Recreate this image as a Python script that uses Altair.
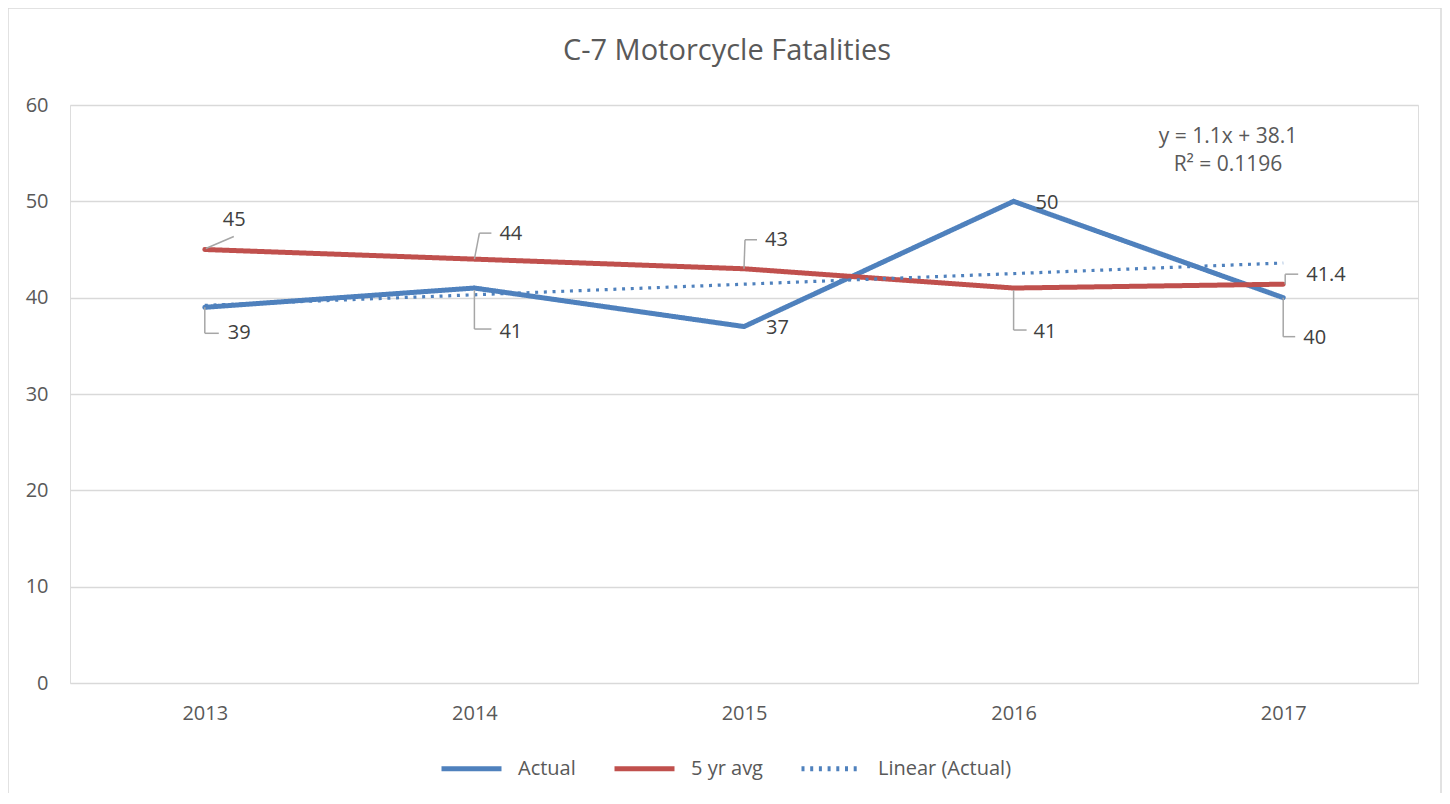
import altair as alt
import pandas as pd

years = ["2013", "2014", "2015", "2016", "2017"]
idx = [1, 2, 3, 4, 5]
actual = [39, 41, 37, 50, 40]
avg5 = [45, 44, 43, 41, 41.4]
series_names = ["Actual", "5 yr avg", "Linear (Actual)"]
series_colors = ["#4F81BD", "#C0504D", "#4F81BD"]
y_ticks = [0, 10, 20, 30, 40, 50, 60]
title_text = "C-7 Motorcycle Fatalities"
eq_lines = ["y = 1.1x + 38.1", "R² = 0.1196"]

FONT = "Open Sans"
TXT = "#404040"
AX = "#595959"

rows = []
for y, i, a in zip(years, idx, actual):
    rows.append({"year": y, "idx": i, "series": "Actual", "value": a})
for y, i, a in zip(years, idx, avg5):
    rows.append({"year": y, "idx": i, "series": "5 yr avg", "value": a})
df = pd.DataFrame(rows)

base = alt.Chart(df)

x_enc = alt.X("year:N", scale=alt.Scale(type="point", domain=years, padding=0.5),
              axis=alt.Axis(title=None, domain=False, ticks=False, labelPadding=20,
                            labelFontSize=20, labelColor=AX, labelFont=FONT, grid=False,
                            labelAngle=0))
y_enc = alt.Y("value:Q", scale=alt.Scale(domain=[0, 60], nice=False),
              axis=alt.Axis(title=None, domain=False, ticks=False, values=y_ticks,
                            labelPadding=22, labelFontSize=20, labelColor=AX,
                            labelFont=FONT, grid=True, gridColor="#D9D9D9", gridWidth=1.3))

color_enc = alt.Color("series:N", scale=alt.Scale(domain=series_names, range=series_colors),
                      sort=series_names,
                      legend=alt.Legend(title=None, orient="none", direction="horizontal",
                                        legendX=369, legendY=631, symbolType="stroke",
                                        symbolSize=3600, symbolStrokeWidth=5,
                                        labelFontSize=20, labelFont=FONT, labelColor=AX,
                                        labelOffset=14, columnPadding=28))
dash_enc = alt.StrokeDash("series:N", scale=alt.Scale(domain=series_names,
                                                      range=[[1, 0], [1, 0], [3, 5.7]]),
                          sort=series_names, legend=None)

lines = base.transform_filter(alt.datum.series != "Linear (Actual)").mark_line(
    strokeWidth=5, strokeCap="round", strokeJoin="round"
).encode(x=x_enc, y=y_enc, color=color_enc, strokeDash=dash_enc)

trend = base.transform_filter(alt.datum.series == "Actual").transform_regression(
    "idx", "value"
).transform_calculate(
    year="toString(2012 + datum.idx)", series="'Linear (Actual)'"
).mark_line(strokeWidth=3.2, strokeCap="butt").encode(
    x=alt.X("year:N"), y=alt.Y("value:Q"), color=color_enc, strokeDash=dash_enc
)

layers = [lines, trend]

# label placements: (series, year, dx, dy, leader segments)
placements = [
    ("Actual", "2013", 23, 26, [(0, 0, 0, 26), (0, 26, 14, 26)]),
    ("Actual", "2014", 25, 44, [(0, 2, 0, 41), (0, 41, 17, 41)]),
    ("Actual", "2015", 22, 1, []),
    ("Actual", "2016", 22, 2, []),
    ("Actual", "2017", 20, 40, [(0, 0, 0, 39), (0, 39, 12, 39)]),
    ("5 yr avg", "2013", 18, -30, [(1, -1, 29, -13)]),
    ("5 yr avg", "2014", 25, -25, [(0, 0, 5, -26), (5, -26, 17, -26)]),
    ("5 yr avg", "2015", 21, -29, [(0, 0, 1, -29), (1, -29, 13, -29)]),
    ("5 yr avg", "2016", 20, 44, [(0, 2, 0, 42), (0, 42, 13, 42)]),
    ("5 yr avg", "2017", 23, -9, [(2, 0, 2, -10), (2, -10, 15, -10)]),
]

for s, yr, dx, dy, segs in placements:
    sub = base.transform_filter((alt.datum.series == s) & (alt.datum.year == yr))
    for (x1, y1, x2, y2) in segs:
        layers.append(sub.mark_rule(color="#A6A6A6", strokeWidth=1.5,
                                    xOffset=x1, yOffset=y1, x2Offset=x2, y2Offset=y2).encode(
            x="year:N", x2="year:N", y="value:Q", y2="value:Q"))
    layers.append(sub.mark_text(align="left", baseline="middle", dx=dx, dy=dy,
                                fontSize=20, font=FONT, color=TXT).encode(
        x="year:N", y="value:Q", text=alt.Text("value:Q")))

one = alt.Chart(pd.DataFrame({"a": [0]}))
eq1 = one.mark_text(align="center", baseline="middle", fontSize=21, font=FONT, color=AX).encode(
    x=alt.value(1158), y=alt.value(32), text=alt.value(eq_lines[0]))
eq2 = one.mark_text(align="center", baseline="middle", fontSize=21, font=FONT, color=AX).encode(
    x=alt.value(1158), y=alt.value(60), text=alt.value(eq_lines[1]))
title = one.mark_text(align="center", baseline="middle", fontSize=29, font=FONT, color=AX).encode(
    x=alt.value(657), y=alt.value(-54), text=alt.value(title_text))
border = one.mark_rect(fill="transparent", stroke="#D9D9D9", strokeWidth=1.5).encode(
    x=alt.value(-62), x2=alt.value(1348 + 23), y=alt.value(-97), y2=alt.value(578 + 200))

layers += [eq1, eq2, title, border]

chart = alt.layer(*layers).properties(
    width=1348, height=578,
    autosize=alt.AutoSizeParams(type="none"),
    padding={"left": 62, "top": 97, "right": 24, "bottom": 110},
).configure_view(stroke=None).configure(background="white")

chart.save("out.html", embed_options={"renderer": "svg", "actions": False})
